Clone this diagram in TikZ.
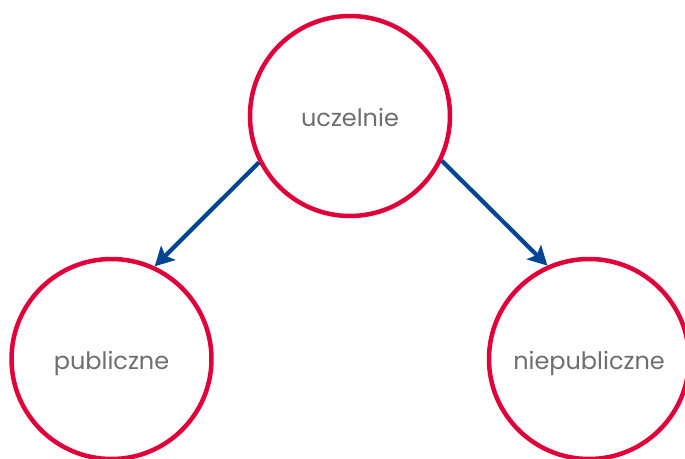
\documentclass[tikz,border=0pt]{standalone}
\usepackage{fontspec}
\setmainfont{Poppins}
\usetikzlibrary{positioning, arrows.meta}
\definecolor{czerwony}{RGB}{224,0,58}
\definecolor{niebieski}{RGB}{0,68,148}
\definecolor{szary}{RGB}{110,110,114}
\tikzset{
	>={Stealth[length=19pt,width=20pt,inset=4pt]}, % Grot strzalki
	node distance=243pt and 238.5pt, % Odstep miedzy srodkami kol
	kolo/.style={circle, draw=czerwony, line width=4.5pt, minimum size=200pt,
		inner sep=0pt, text=szary, text height=20pt, text depth=0pt,
		font=\fontsize{24}{28}\selectfont}, % Wyglad kol
	strzalka/.style={->, draw=niebieski, line width=4.2pt} % Wyglad strzalek
}

\begin{document}
\begin{tikzpicture}[on grid]
	\useasboundingbox (-350pt,116pt) rectangle (335pt,-342pt);
	\node[kolo] (uczelnie) {uczelnie};
	\node[kolo, below left=of uczelnie] (publiczne) {publiczne};
	\node[kolo, below right=243pt and 239pt of uczelnie] (niepubliczne) {niepubliczne};
	\draw[strzalka] (uczelnie.-153) -- (publiczne.65);
	\draw[strzalka] (uczelnie.-26) -- (niepubliczne.114);
\end{tikzpicture}
\end{document}
